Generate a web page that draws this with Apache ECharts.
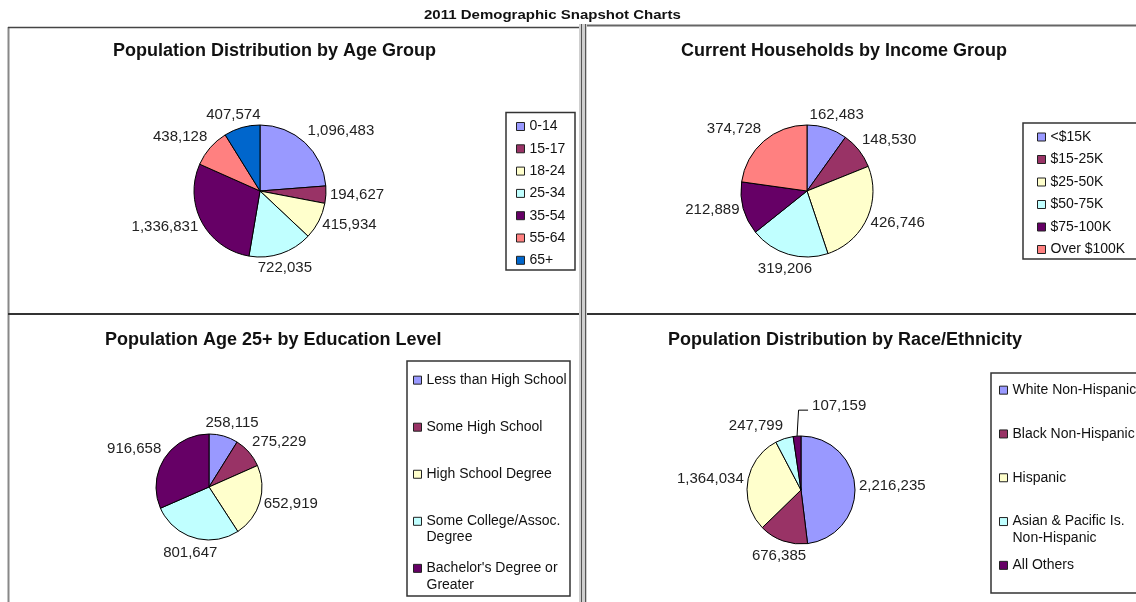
<!DOCTYPE html>
<html><head><meta charset="utf-8">
<script src="https://cdn.jsdelivr.net/npm/echarts@6/dist/echarts.min.js"></script>
<style>html,body{margin:0;padding:0;background:#fff;}#c{width:1136px;height:602px;}</style>
</head><body><div id="c"></div>
<script>
const FONT = '"Liberation Sans", Arial, Helvetica, sans-serif';

// ---- data ----
const headerText = '2011 Demographic Snapshot Charts';
const chartTitles = ['Population Distribution by Age Group','Current Households by Income Group','Population Age 25+ by Education Level','Population Distribution by Race/Ethnicity'];

const ageCategories = ['0-14','15-17','18-24','25-34','35-54','55-64','65+'];
const ageValues = [1096483,194627,415934,722035,1336831,438128,407574];

const incomeCategories = ['<$15K','$15-25K','$25-50K','$50-75K','$75-100K','Over $100K'];
const incomeValues = [162483,148530,426746,319206,212889,374728];

const educationCategories = ['Less than High School','Some High School','High School Degree','Some College/Assoc.\nDegree',"Bachelor's Degree or\nGreater"];
const educationValues = [258115,275229,652919,801647,916658];

const raceCategories = ['White Non-Hispanic','Black Non-Hispanic','Hispanic','Asian & Pacific Is.\nNon-Hispanic','All Others'];
const raceValues = [2216235,676385,1364034,247799,107159];

const palette = ['#9999FF','#993366','#FFFFCC','#C0FFFF','#660066','#FF8080','#0066CC'];

// ---- layout ----
const panels = [
  {cats:ageCategories, vals:ageValues, center:[260,191], r:66, title:{left:113,top:42.5},
   legend:{left:516, top:118.5, gap:6.3, lh:16, pad:false}, box:[506,112.5,69,157.5], leader:-1},
  {cats:incomeCategories, vals:incomeValues, center:[807,191], r:66, title:{left:681,top:42.5},
   legend:{left:1037, top:129, gap:6.5, lh:16, pad:false}, box:[1023,123,114,136], leader:-1},
  {cats:educationCategories, vals:educationValues, center:[209,487], r:53, title:{left:105,top:331.5},
   legend:{left:413, top:355.7, gap:-1.85, lh:16.3, pad:true}, box:[407,361,163,235], leader:-1},
  {cats:raceCategories, vals:raceValues, center:[801,490], r:54, title:{left:668,top:331.5},
   legend:{left:999, top:365.7, gap:-5.1, lh:16.3, pad:true}, box:[991,373,150,220], leader:4}
];

function placeLabel(params, p) {
  const pts = params.labelLinePoints;
  if (!pts) return {};
  const E = pts[0];
  let ux = E[0] - p.center[0], uy = E[1] - p.center[1];
  const n = Math.hypot(ux, uy) || 1; ux /= n; uy /= n;
  const w = params.labelRect.width, h = params.labelRect.height;
  if (params.dataIndex === p.leader) {
    return {x: E[0] + 15, y: E[1] - 30.5, align: 'left', verticalAlign: 'middle',
      labelLinePoints: [[E[0], E[1]], [E[0] + 1.5, E[1] - 26], [E[0] + 11, E[1] - 26]]};
  }
  const d = 4;
  const ax = Math.abs(ux);
  const k = uy > 0 ? 0.3 : 1;
  let fx = ax <= 0.4 ? ux * k : Math.sign(ux) * Math.min(1, 0.4 * k + (ax - 0.4) * (1 - 0.4 * k) / 0.2);
  // keep the label next to a leader line clear of it
  if (p.leader >= 0 && params.dataIndex === p.leader - 1) fx = -1;
  const fy = uy < 0 ? -Math.min(1.2, -uy * 1.6) : 1.6 * uy * uy;
  return {x: E[0] + ux * d + fx * w / 2, y: E[1] + uy * d + fy * h / 2, align: 'center', verticalAlign: 'middle'};
}

const chart = echarts.init(document.getElementById('c'), null, {renderer: 'canvas'});

const graphics = [
  {type:'rect', silent:true, shape:{x:579, y:24, width:8, height:578}, style:{fill:'#cfcfcf'}},
  {type:'line', silent:true, shape:{x1:581.5, y1:24, x2:581.5, y2:602}, style:{stroke:'#555', lineWidth:1}},
  {type:'line', silent:true, shape:{x1:585.5, y1:24, x2:585.5, y2:602}, style:{stroke:'#555', lineWidth:1}},
  {type:'line', silent:true, shape:{x1:8.5, y1:27, x2:8.5, y2:602}, style:{stroke:'#888', lineWidth:2}},
  {type:'line', silent:true, shape:{x1:8, y1:27.5, x2:579, y2:27.5}, style:{stroke:'#444', lineWidth:1.5}},
  {type:'line', silent:true, shape:{x1:587, y1:25.5, x2:1136, y2:25.5}, style:{stroke:'#666', lineWidth:2}},
  {type:'line', silent:true, shape:{x1:8, y1:314, x2:579, y2:314}, style:{stroke:'#333', lineWidth:2}},
  {type:'line', silent:true, shape:{x1:587, y1:314, x2:1136, y2:314}, style:{stroke:'#333', lineWidth:2}},
  {type:'text', silent:true, x:424, y:10, scaleX:1.25,
   style:{text:headerText, font:'bold 12px ' + FONT, fill:'#111', textVerticalAlign:'top'}}
];
panels.forEach(p => {
  graphics.push({type:'rect', silent:true, shape:{x:p.box[0], y:p.box[1], width:p.box[2], height:p.box[3]},
    style:{fill:'none', stroke:'#333', lineWidth:1.5}});
});

const option = {
  animation: false,
  backgroundColor: '#fff',
  title: chartTitles.map((t, i) => ({
    text: t, left: panels[i].title.left, top: panels[i].title.top, padding: 0,
    textStyle: {fontFamily: FONT, fontSize: 18, fontWeight: 'bold', color: '#111'}
  })),
  legend: panels.map(p => ({
    orient: 'vertical', left: p.legend.left, top: p.legend.top, padding: 0,
    itemGap: p.legend.gap, itemWidth: 8, itemHeight: 8, icon: 'rect', selectedMode: false,
    data: p.cats.slice(),
    formatter: p.legend.pad ? (nm => nm.indexOf('\n') >= 0 ? '\n' + nm : '\n' + nm + '\n') : '{name}',
    textStyle: {fontFamily: FONT, fontSize: 14, color: '#111', lineHeight: p.legend.lh},
    itemStyle: {borderColor: '#222', borderWidth: 1}
  })),
  graphic: graphics,
  series: panels.map(p => ({
    type: 'pie', center: p.center, radius: p.r, startAngle: 90, clockwise: true,
    avoidLabelOverlap: false, silent: true,
    label: {show: true, position: 'outside', fontFamily: FONT, fontSize: 15, color: '#222',
      formatter: prm => prm.value.toLocaleString('en-US')},
    labelLine: {show: true, length: 4, length2: 1, smooth: false, lineStyle: {opacity: 0, width: 1, color: '#000'}},
    labelLayout: params => placeLabel(params, p),
    itemStyle: {borderColor: '#000', borderWidth: 1},
    data: p.cats.map((c, j) => {
      const d = {name: c, value: p.vals[j], itemStyle: {color: palette[j]}};
      if (j === p.leader) d.labelLine = {lineStyle: {opacity: 1}};
      return d;
    })
  }))
};
chart.setOption(option);
</script>
</body></html>
